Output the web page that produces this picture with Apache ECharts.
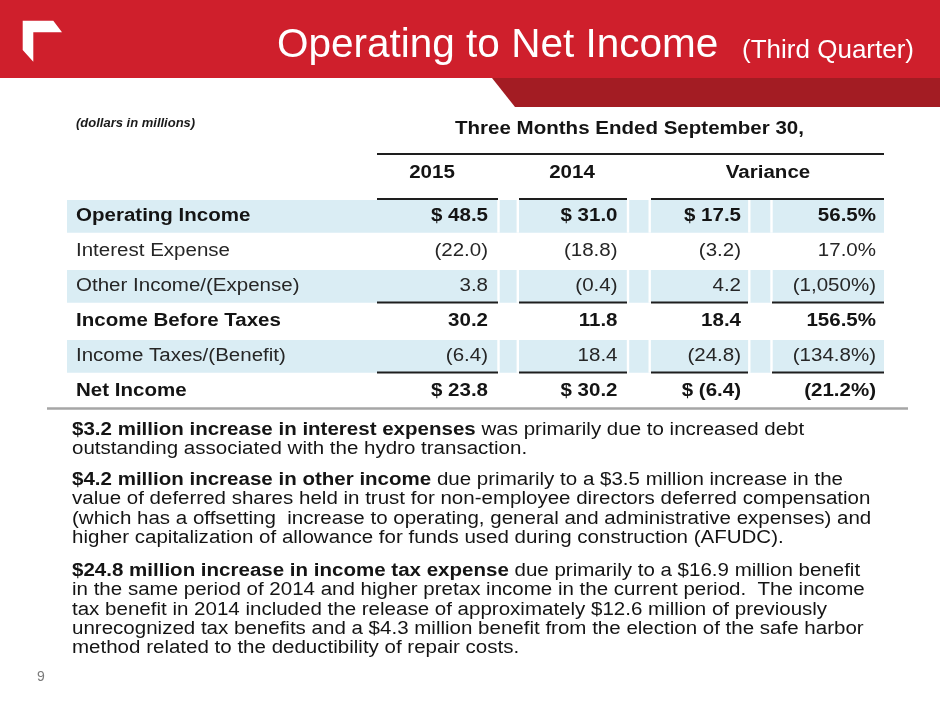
<!DOCTYPE html>
<html><head><meta charset="utf-8">
<script src="https://cdn.jsdelivr.net/npm/echarts@6/dist/echarts.min.js"></script>
<style>html,body{margin:0;padding:0;background:#fff}#c{width:940px;height:705px}</style>
</head><body><div id="c"></div>
<script>
// ---------- data ----------
const titleMain = 'Operating to Net Income';
const titleSub = '(Third Quarter)';
const unitNote = '(dollars in millions)';
const headerTitle = 'Three Months Ended September 30,';
const columnHeads = ['2015', '2014', 'Variance'];
const rowLabels = ['Operating Income', 'Interest Expense', 'Other Income/(Expense)',
  'Income Before Taxes', 'Income Taxes/(Benefit)', 'Net Income'];
const boldRows = [true, false, false, true, false, true];
const shadedRows = [true, false, true, false, true, false];
const dollarRows = [true, false, false, false, false, true];
const ruleBelowRows = [false, false, true, false, true, false];
const v2015 = [48.5, -22.0, 3.8, 30.2, -6.4, 23.8];
const v2014 = [31.0, -18.8, -0.4, 11.8, 18.4, 30.2];
const varAmount = [17.5, -3.2, 4.2, 18.4, -24.8, -6.4];
const varPercent = [56.5, 17.0, -1050, 156.5, -134.8, -21.2];
const notes = [
  [['$3.2 million increase in interest expenses', ' was primarily due to increased debt'],
   ['', 'outstanding associated with the hydro transaction.']],
  [['$4.2 million increase in other income', ' due primarily to a $3.5 million increase in the'],
   ['', 'value of deferred shares held in trust for non-employee directors deferred compensation'],
   ['', '(which has a offsetting  increase to operating, general and administrative expenses) and'],
   ['', 'higher capitalization of allowance for funds used during construction (AFUDC).']],
  [['$24.8 million increase in income tax expense', ' due primarily to a $16.9 million benefit'],
   ['', 'in the same period of 2014 and higher pretax income in the current period.  The income'],
   ['', 'tax benefit in 2014 included the release of approximately $12.6 million of previously'],
   ['', 'unrecognized tax benefits and a $4.3 million benefit from the election of the safe harbor'],
   ['', 'method related to the deductibility of repair costs.']]
];
const pageNo = '9';

// ---------- style / layout ----------
const FF = '"Liberation Sans", Arial, Helvetica, sans-serif';
const FS = 18, SX = 1.14;
const INK = '#141414', INK2 = '#262626';
const RED = '#cf1f2c', DARK = '#a31c23', BAND = '#daedf4';
const TL = 67, TR = 884;
const colRight = [488, 617.5, 741, 876];
const sepX = [498.5, 517.8, 628, 649.7, 749.3, 771.5];
const headSegs = [[377, 498], [519, 627], [651, 884]];
const rowSegs = [[377, 498], [519, 627], [651, 748], [772, 884]];
const headCenters = [432, 572, 768];

function fmtNum(v, dollar) {
  let s = Math.abs(v).toFixed(1);
  if (v < 0) s = '(' + s + ')';
  return dollar ? '$ ' + s : s;
}
function fmtPct(v) {
  const a = Math.abs(v);
  let s = (a >= 1000 ? a.toLocaleString('en-US') : a.toFixed(1)) + '%';
  return v < 0 ? '(' + s + ')' : s;
}
function T(x, y, text, o) {
  o = o || {};
  return {
    type: 'text', x: x, y: y, scaleX: o.sx || 1, silent: true, z: o.z || 5,
    style: {
      text: text, fill: o.fill || INK, fontFamily: FF, fontSize: o.fs || FS,
      fontWeight: o.fw || 'normal', fontStyle: o.fst || 'normal',
      align: o.align || 'left', verticalAlign: 'middle'
    }
  };
}
function L(x1, x2, y, color, w) {
  return { type: 'line', silent: true, z: 5, shape: { x1: x1, y1: y, x2: x2, y2: y },
    style: { stroke: color, lineWidth: w } };
}

function renderItem(params, api) {
  const i = api.value(1);
  const yc = api.coord([TL, i])[1];
  const h = api.size([0, 1])[1];
  const top = yc - h / 2, bot = yc + h / 2;
  const X = v => api.coord([v, i])[0];
  const ch = [];
  if (shadedRows[i]) {
    ch.push({ type: 'rect', shape: { x: X(TL), y: top + 1.5, width: X(TR) - X(TL), height: h - 2.3 },
      style: { fill: BAND } });
    sepX.forEach(s => ch.push({ type: 'rect', shape: { x: X(s) - 1.2, y: top + 1.5, width: 2.4, height: h - 2.3 },
      style: { fill: '#ffffff' } }));
  }
  const fw = boldRows[i] ? 'bold' : 'normal';
  const fill = boldRows[i] ? INK : INK2;
  ch.push(T(X(76), yc, rowLabels[i], { fw: fw, fill: fill, sx: SX }));
  const vals = [fmtNum(v2015[i], dollarRows[i]), fmtNum(v2014[i], dollarRows[i]),
    fmtNum(varAmount[i], dollarRows[i]), fmtPct(varPercent[i])];
  vals.forEach((s, k) => ch.push(T(X(colRight[k]), yc, s, { fw: fw, fill: fill, sx: SX, align: 'right' })));
  if (ruleBelowRows[i]) {
    rowSegs.forEach(sg => ch.push({ type: 'line', shape: { x1: X(sg[0]), y1: bot - 1, x2: X(sg[1]), y2: bot - 1 },
      style: { stroke: '#1e1e1e', lineWidth: 2 } }));
  }
  return { type: 'group', children: ch };
}

const graphic = [];
// banner
graphic.push({ type: 'rect', silent: true, z: 1, shape: { x: 0, y: 0, width: 940, height: 78 }, style: { fill: RED } });
graphic.push({ type: 'polygon', silent: true, z: 1, shape: { points: [[492, 78], [940, 78], [940, 107], [515, 107]] },
  style: { fill: DARK } });
graphic.push({ type: 'polygon', silent: true, z: 2,
  shape: { points: [[22.7, 20.7], [53.3, 20.7], [62, 32.3], [33.3, 32.3], [33.3, 61.7], [22.7, 50]] },
  style: { fill: '#ffffff' } });
graphic.push(T(277, 45.5, titleMain, { fs: 40.5, fill: '#ffffff' }));
graphic.push(T(914, 51, titleSub, { fs: 26, fill: '#ffffff', align: 'right' }));
// table header
graphic.push(T(76, 123, unitNote, { fs: 13, fw: 'bold', fst: 'italic', fill: '#1a1a1a' }));
graphic.push(T(629.5, 129, headerTitle, { fw: 'bold', sx: SX, align: 'center' }));
graphic.push(L(377, TR, 154, '#1e1e1e', 2));
columnHeads.forEach((c, k) => graphic.push(T(headCenters[k], 173, c, { fw: 'bold', sx: SX, align: 'center' })));
headSegs.forEach(sg => graphic.push(L(sg[0], sg[1], 199, '#1e1e1e', 2)));
// divider under table
graphic.push(L(47, 908, 408.5, '#a6a6a6', 2.5));
// notes
const paraStart = [430, 480, 571];
const LH = 19.3;
notes.forEach((para, p) => {
  para.forEach((ln, j) => {
    const txt = (ln[0] ? '{b|' + ln[0] + '}' : '') + '{n|' + ln[1] + '}';
    graphic.push({
      type: 'text', x: 72, y: paraStart[p] + j * LH, scaleX: SX, silent: true, z: 5,
      style: {
        text: txt, fontFamily: FF, fontSize: FS, fill: INK, align: 'left', verticalAlign: 'middle',
        rich: {
          b: { fontFamily: FF, fontSize: FS, fontWeight: 'bold', fill: INK },
          n: { fontFamily: FF, fontSize: FS, fontWeight: 'normal', fill: INK }
        }
      }
    });
  });
});
graphic.push(T(37, 677, pageNo, { fs: 14, fill: '#7a7a7a' }));

const chart = echarts.init(document.getElementById('c'), null, { renderer: 'canvas' });
chart.setOption({
  animation: false,
  backgroundColor: '#ffffff',
  grid: { left: TL, right: 940 - TR, top: 198.5, height: 210 },
  xAxis: { type: 'value', min: TL, max: TR, show: false },
  yAxis: { type: 'category', data: rowLabels, inverse: true, show: false },
  series: [{
    type: 'custom', coordinateSystem: 'cartesian2d', encode: { x: 0, y: 1 },
    data: rowLabels.map((_, i) => [TL, i]), renderItem: renderItem, clip: false, silent: true
  }],
  graphic: graphic
});
</script></body></html>
